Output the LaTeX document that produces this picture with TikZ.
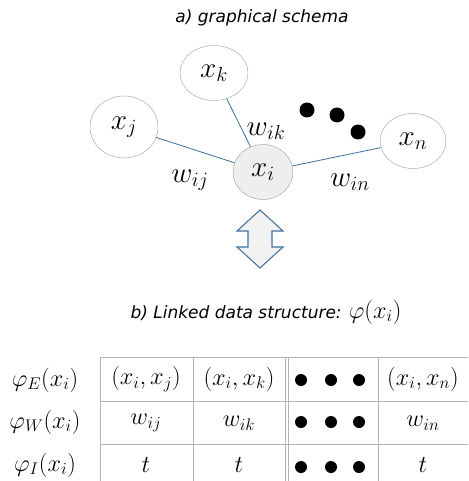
\documentclass[tikz,border=0pt]{standalone}
\usepackage{fontspec}
\newfontfamily\titlefont{DejaVu Sans}
\usetikzlibrary{shapes.geometric}
\definecolor{edgeblue}{HTML}{41719C}
\definecolor{rimgrey}{HTML}{A6A6A6}
\definecolor{gridgrey}{HTML}{B4B4B4}
\begin{document}
\begin{tikzpicture}[x=0.03cm, y=-0.03cm,
    vertex/.style={ellipse, draw=rimgrey, inner sep=0pt, font=\fontsize{24}{28}\selectfont},
    link/.style={draw=edgeblue, line width=0.7pt},
    wlabel/.style={font=\fontsize{23}{26}\selectfont},
    heading/.style={font=\titlefont\itshape\fontsize{14.5}{17}\selectfont},
    cell/.style={font=\fontsize{20}{24}\selectfont},
    blob/.style={circle, fill=black, inner sep=0pt, minimum size=15*0.03cm}]
    \useasboundingbox (0,0) rectangle (468,481);
    % a) graph
    \node[heading] (ta) at (262,18) {a) graphical schema};
    \node[vertex, minimum width=2.04cm, minimum height=1.65cm] (xk) at (214,73) {$x_k$};
    \node[vertex, minimum width=2.04cm, minimum height=1.86cm] (xj) at (124,127) {$x_j$};
    \node[vertex, fill=gray!13, minimum width=1.8cm, minimum height=1.65cm] (xi) at (263,172) {$x_i$};
    \node[vertex, minimum width=1.98cm, minimum height=1.65cm] (xn) at (413,141) {$x_n$};
    \draw[link] (xj) -- (xi);
    \draw[link] (xk) -- (xi);
    \draw[link] (xi) -- (xn);
    \node[wlabel] (wij) at (190,180) {$w_{ij}$};
    \node[wlabel] (wik) at (266,131) {$w_{ik}$};
    \node[wlabel] (win) at (350,182) {$w_{in}$};
    \node[blob] (d1) at (307,110) {};
    \node[blob] (d2) at (337,115) {};
    \node[blob] (d3) at (358,132) {};
    % double arrow
    \draw[edgeblue, fill=gray!10, line width=0.9pt, line join=miter]
        (260,210) -- (283,231) -- (272,231) -- (272,247) -- (283,247) -- (260,268)
        -- (237,247) -- (248,247) -- (248,231) -- (237,231) -- cycle;
    % b) table
    \node[heading] (tb) at (266,312) {b) Linked data structure: {\normalfont\fontsize{20}{24}\selectfont$\varphi(x_i)$}};
    \draw[gridgrey, line width=0.7pt] (100,357) -- (468,357);
    \draw[gridgrey, line width=0.7pt] (100,401) -- (468,401);
    \draw[gridgrey, line width=0.7pt] (100,444) -- (468,444);
    \foreach \cx in {100,193,285,288,378}
        \draw[gridgrey, line width=0.7pt] (\cx,357) -- (\cx,481);
    \node[cell] (le) at (45,380) {$\varphi_E(x_i)$};
    \node[cell] (lw) at (45,422) {$\varphi_W(x_i)$};
    \node[cell] (lt) at (45,465) {$\varphi_I(x_i)$};
    \node[cell] (e1) at (146,379) {$(x_i,x_j)$};
    \node[cell] (e2) at (239,379) {$(x_i,x_k)$};
    \node[cell] (e4) at (423,379) {$(x_i,x_n)$};
    \node[cell] (w1) at (146,423) {$w_{ij}$};
    \node[cell] (w2) at (239,423) {$w_{ik}$};
    \node[cell] (w4) at (423,423) {$w_{in}$};
    \node[cell] (t1) at (146,465) {$t$};
    \node[cell] (t2) at (239,465) {$t$};
    \node[cell] (t4) at (423,465) {$t$};
    \foreach \ry/\rn in {380/e,422/w,467/t}
        \foreach \dx/\dn in {301/1,331/2,359/3}
            \node[blob, minimum size=12*0.03cm] (\rn d\dn) at (\dx,\ry) {};
\end{tikzpicture}
\end{document}
